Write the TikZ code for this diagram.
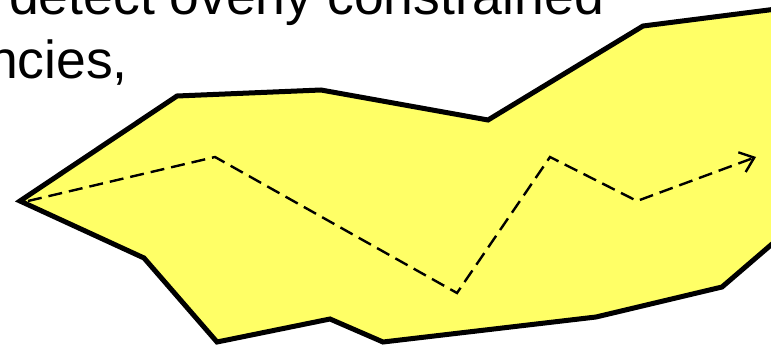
\documentclass[tikz,border=0pt]{standalone}
\usepackage{fontspec}
\setmainfont{Liberation Sans}
\usetikzlibrary{arrows.meta}
\definecolor{blobyellow}{RGB}{255,255,102}
\tikzset{
  blob/.style={draw=black, line width=5pt, fill=blobyellow, line join=miter},
  route/.style={draw=black, line width=2.4pt, dash pattern=on 14pt off 7pt},
  routetip/.style={-{Straight Barb[length=13pt,width=21pt,line width=2.4pt]}},
  txt/.style={inner sep=0pt, font=\fontsize{53.5}{64}\selectfont}
}
\begin{document}
\begin{tikzpicture}[x=1pt,y=-1pt]
\useasboundingbox (0,0) rectangle (771,345);
\clip (0,0) rectangle (771,345);
% text
\node[txt, anchor=base west] (l1) at (9,15) {detect overly constrained};
\node[txt, anchor=base east] (l2) at (128,78) {ncies,};
% polygon
\draw[blob] (20,201) -- (177,96) -- (321,90) -- (488,120) -- (643,26) -- (800,6)
  -- (800,220) -- (722,287) -- (596,317) -- (383,342) -- (330,319) -- (217,342)
  -- (144,258) -- cycle;
% route points
\coordinate (p0) at (28,201);
\coordinate (p1) at (215,157);
\coordinate (p2) at (457,293);
\coordinate (p3) at (550,157);
\coordinate (p4) at (637,201);
\coordinate (p5) at (756,157);
\draw[route, routetip] (p0) -- (p1) -- (p2) -- (p3) -- (p4) -- (p5);
\end{tikzpicture}
\end{document}
